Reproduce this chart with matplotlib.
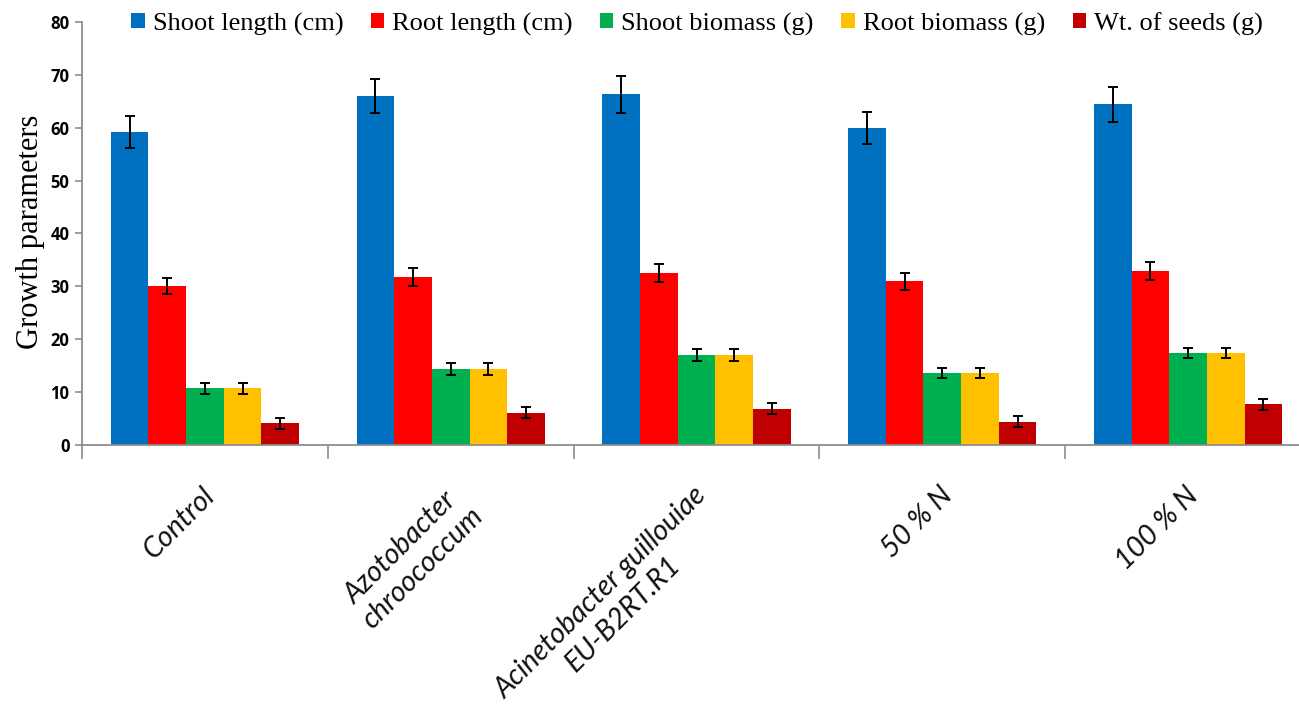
import numpy as np
import matplotlib
matplotlib.use("Agg")
import matplotlib.pyplot as plt
from matplotlib.transforms import offset_copy

groups = ["Control", "Azotobacter\nchroococcum", "Acinetobacter guillouiae\nEU-B2RT.R1", "50 % N", "100 % N"]
series = ["Shoot length (cm)", "Root length (cm)", "Shoot biomass (g)", "Root biomass (g)", "Wt. of seeds (g)"]

shoot_len = [59.2, 66.0, 66.3, 60.0, 64.4]
root_len = [30.0, 31.8, 32.5, 31.0, 33.0]
shoot_bio = [10.7, 14.4, 17.0, 13.6, 17.4]
root_bio = [10.7, 14.4, 17.0, 13.6, 17.4]
seed_wt = [4.1, 6.1, 6.9, 4.4, 7.7]

shoot_len_err = [3.0, 3.3, 3.5, 3.0, 3.3]
root_len_err = [1.5, 1.7, 1.65, 1.6, 1.7]
shoot_bio_err = [1.0, 1.1, 1.1, 1.0, 0.95]
root_bio_err = [1.0, 1.1, 1.1, 1.0, 0.95]
seed_wt_err = [1.1, 1.0, 1.0, 1.0, 1.05]

values = [shoot_len, root_len, shoot_bio, root_bio, seed_wt]
errors = [shoot_len_err, root_len_err, shoot_bio_err, root_bio_err, seed_wt_err]
colors = ["#0070C0", "#FF0000", "#00B050", "#FFC000", "#C00000"]

W, H = 1299, 709
fig = plt.figure(figsize=(W / 100, H / 100), dpi=100)
ax = fig.add_axes([82 / W, (H - 445) / H, (1311 - 82) / W, (445 - 22) / H])

x = np.arange(len(groups))
bw = 0.153
for k in range(5):
    ax.bar(x + (k - 2) * bw, values[k], bw, color=colors[k], label=series[k],
           yerr=errors[k], error_kw=dict(ecolor="black", elinewidth=1.4, capsize=3.5, capthick=1.4),
           zorder=2)

ax.set_xlim(-0.5, 4.5)
ax.set_ylim(0, 80)
ax.set_yticks(range(0, 81, 10))
for sp in ["top", "right"]:
    ax.spines[sp].set_visible(False)
for sp in ["left", "bottom"]:
    ax.spines[sp].set_color("#8c8c8c")
    ax.spines[sp].set_linewidth(1.3)

ax.tick_params(axis="y", length=5, width=1.2, color="#8c8c8c", pad=4)
for lab in ax.get_yticklabels():
    lab.set_fontfamily("Open Sans")
    lab.set_fontweight("bold")
    lab.set_fontsize(12)

ax.set_xticks(np.arange(-0.5, 5, 1))
ax.set_xticklabels([])
ax.tick_params(axis="x", length=10, width=1.2, color="#8c8c8c")

tr = offset_copy(ax.transData, fig=fig, x=-3, y=-37, units="dots")
for i, g in enumerate(groups):
    ax.text(i, 0, g, transform=tr, rotation=45, rotation_mode="anchor",
            ha="right", va="top", multialignment="center",
            fontsize=20.5, fontstyle="italic", family="Lato", color="#111111")

fig.text(31 / W, 1 - 232 / H, "Growth parameters", rotation=90, ha="center", va="center",
         family="Liberation Serif", fontsize=22)

fig.legend(loc="center", bbox_to_anchor=(697 / W, 1 - 24 / H), ncol=5, frameon=False,
           prop=dict(family="Liberation Serif", size=19), handlelength=0.5, handleheight=0.5,
           handletextpad=0.3, columnspacing=1.05, borderpad=0, borderaxespad=0)

fig.savefig("out.png", dpi=100)
